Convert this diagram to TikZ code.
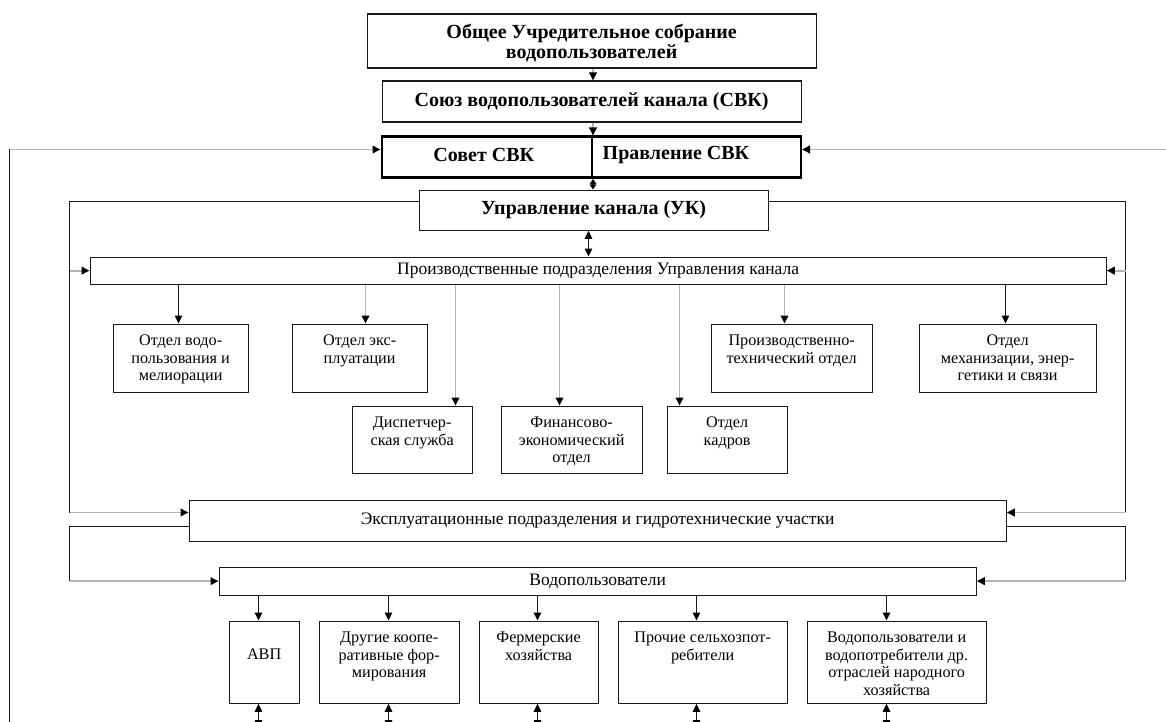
\documentclass[tikz,border=0pt]{standalone}
\usepackage{fontspec}
\setmainfont{Liberation Serif}
\usetikzlibrary{arrows.meta,calc}
\definecolor{gl}{HTML}{B4B4B4}
\definecolor{bl}{HTML}{1A1A1A}
\tikzset{
  >={Triangle[width=7.5pt,length=8pt,color=black]},
  box/.style={draw=bl, line width=1.25pt, inner sep=0pt, align=center},
  tbox/.style={draw=black, line width=2.5pt, inner sep=0pt, align=center},
  hb/.style={font=\fontsize{20}{20}\selectfont\bfseries},
  hr/.style={font=\fontsize{17.5}{18}\selectfont},
  dt/.style={font=\fontsize{16.2}{17.7}\selectfont, align=center, inner sep=0pt, anchor=north},
  blk/.style={draw=bl, line width=1.25pt},
  gry/.style={draw=gl, line width=1.9pt},
  sdbl/.style={draw=bl, line width=1.2pt, {Triangle[width=6.5pt,length=5pt,color=black]}-{Triangle[width=6.5pt,length=5pt,color=black]}}
}
\newcommand\bx[7]{\pgfmathsetmacro\bxw{#4-#2}\pgfmathsetmacro\bxh{#5-#3}%
  \node[#6,minimum width=\bxw pt,minimum height=\bxh pt,anchor=north west] (#1) at (#2,#3) {#7};}
\begin{document}
\begin{tikzpicture}[x=1pt,y=-1pt]
\useasboundingbox (0,0) rectangle (1166,722);
\clip (0,0) rectangle (1166,722);
% top boxes
\bx{T}{366.5}{13.5}{815.5}{67.5}{box}{}
\node[hb, align=center, inner sep=0pt] (Tt) at ($(T.center)+(0,1.5)$) {Общее Учредительное собрание\\водопользователей};
\bx{S}{381.5}{80.5}{800.5}{121.5}{box,hb}{Союз водопользователей канала (СВК)}
\bx{SV}{380.5}{135.5}{590.5}{176.5}{tbox}{}
\node[hb, inner sep=0pt] (SVt) at ($(SV.center)+(-3,-2)$) {Совет СВК};
\bx{PV}{590.5}{135.5}{799.5}{176.5}{tbox}{}
\node[hb, anchor=west, inner sep=0pt] (PVt) at ($(PV.west)+(12,-2)$) {Правление СВК};
\bx{UK}{418.5}{189.5}{767.5}{229.5}{box,hb}{Управление канала (УК)}
\bx{PR}{89.5}{256.5}{1105.5}{283.5}{box,hr}{Производственные подразделения Управления канала}
% departments
\bx{D1}{112.5}{323.5}{247.5}{391.5}{box}{}
\bx{D2}{291.5}{323.5}{426.5}{391.5}{box}{}
\bx{D3}{351.5}{405.5}{471.5}{472.5}{box}{}
\bx{D4}{500.5}{405.5}{641.5}{472.5}{box}{}
\bx{D5}{666.5}{405.5}{786.5}{472.5}{box}{}
\bx{D6}{710.5}{323.5}{871.5}{391.5}{box}{}
\bx{D7}{918.5}{323.5}{1095.5}{391.5}{box}{}
\node[dt] (D1t) at ($(D1.north)+(0,11)$) {Отдел водо-\\пользования и\\мелиорации};
\node[dt] (D2t) at ($(D2.north)+(0,11)$) {Отдел экс-\\плуатации};
\node[dt] (D3t) at ($(D3.north)+(0,11)$) {Диспетчер-\\ская служба};
\node[dt] (D4t) at ($(D4.north)+(0,11)$) {Финансово-\\экономический\\отдел};
\node[dt] (D5t) at ($(D5.north)+(0,11)$) {Отдел\\кадров};
\node[dt] (D6t) at ($(D6.north)+(0,11)$) {Производственно-\\технический отдел};
\node[dt] (D7t) at ($(D7.north)+(0,11)$) {Отдел\\механизации, энер-\\гетики и связи};
\bx{EX}{188.5}{499.5}{1005.5}{540.5}{box,hr}{Эксплуатационные подразделения и гидротехнические участки}
\bx{VP}{218.5}{566.5}{975.5}{594.5}{box,hr}{Водопользователи}
% bottom boxes
\bx{B1}{228.5}{620.5}{298.5}{702.5}{box}{}
\bx{B2}{318.5}{620.5}{458.5}{702.5}{box}{}
\bx{B3}{478.5}{620.5}{597.5}{702.5}{box}{}
\bx{B4}{617.5}{620.5}{786.5}{702.5}{box}{}
\bx{B5}{806.5}{620.5}{985.5}{702.5}{box}{}
\node[dt] (B1t) at ($(B1.north)+(0,28.5)$) {АВП};
\node[dt] (B2t) at ($(B2.north)+(0,11)$) {Другие коопе-\\ративные фор-\\мирования};
\node[dt] (B3t) at ($(B3.north)+(0,11)$) {Фермерские\\хозяйства};
\node[dt] (B4t) at ($(B4.north)+(0,11)$) {Прочие сельхозпот-\\ребители};
\node[dt] (B5t) at ($(B5.north)+(0,11)$) {Водопользователи и\\водопотребители др.\\отраслей народного\\хозяйства};
% coordinates
\coordinate (xL) at (69.5,0);
\coordinate (xR) at (1125.5,0);
\coordinate (lb) at (9.5,722);
\coordinate (g1) at (380.5,149.5);
\coordinate (re) at (1166,149.5);
\coordinate (ukl) at (418.5,201.5);
\coordinate (ukr) at (767.5,201.5);
\coordinate (exa) at (0,512.5);
\coordinate (exl) at (188.5,526.5);
\coordinate (exr) at (1005.5,526.5);
\coordinate (bot) at (0,728);
\coordinate (m) at (588.5,0);
\foreach \n/\x in {a1/178.5,a2/365.5,a3/455.5,a4/559.5,a5/679.5,a6/784.5,a7/1005.5,c1/258.5,c2/388.5,c3/537.5,c4/696.5,c5/886.5}
  {\coordinate (\n) at (\x,0);}
% top connectors
\draw[gry,->] (SV.north east |- T.south) -- (SV.north east |- S.north);
\draw[gry,->] (SV.north east |- S.south) -- (SV.north east);
\draw[sdbl] (SV.south east) -- (SV.south east |- UK.north);
\draw[blk,<->] (m |- UK.south) -- (m |- PR.north);
% outer feedback lines
\draw[blk] (lb) -- (lb |- g1);
\draw[gry,->] (lb |- g1) -- (g1);
\draw[gry,->] (re) -- (re -| PV.east);
% UK side lines
\draw[blk] (ukl) -- (xL |- ukl) -- (xL |- exa);
\draw[gry,->] (xL |- PR.west) -- (PR.west);
\draw[gry,->] (xL |- exa) -- (EX.west |- exa);
\draw[blk] (ukr) -- (xR |- ukr) -- (xR |- exa);
\draw[gry,->] (xR |- PR.east) -- (PR.east);
\draw[gry,->] (xR |- exa) -- (EX.east |- exa);
% EX to VP
\draw[blk] (exl) -- (xL |- exl) -- (xL |- VP.west);
\draw[gry,->] (xL |- VP.west) -- (VP.west);
\draw[blk] (exr) -- (xR |- exr) -- (xR |- VP.east);
\draw[gry,->] (xR |- VP.east) -- (VP.east);
% departments
\draw[blk,->] (a1 |- PR.south) -- (a1 |- D1.north);
\draw[gry,->] (a2 |- PR.south) -- (a2 |- D2.north);
\draw[gry,->] (a3 |- PR.south) -- (a3 |- D3.north);
\draw[gry,->] (a4 |- PR.south) -- (a4 |- D4.north);
\draw[gry,->] (a5 |- PR.south) -- (a5 |- D5.north);
\draw[gry,->] (a6 |- PR.south) -- (a6 |- D6.north);
\draw[blk,->] (a7 |- PR.south) -- (a7 |- D7.north);
% bottom
\draw[blk,->] (c1 |- VP.south) -- (c1 |- B1.north);
\draw[blk,->] (c2 |- VP.south) -- (c2 |- B2.north);
\draw[blk,->] (c3 |- VP.south) -- (c3 |- B3.north);
\draw[blk,->] (c4 |- VP.south) -- (c4 |- B4.north);
\draw[blk,->] (c5 |- VP.south) -- (c5 |- B5.north);
\draw[blk,<->] (c1 |- bot) -- (c1 |- B1.south);
\draw[blk,<->] (c2 |- bot) -- (c2 |- B2.south);
\draw[blk,<->] (c3 |- bot) -- (c3 |- B3.south);
\draw[blk,<->] (c4 |- bot) -- (c4 |- B4.south);
\draw[blk,<->] (c5 |- bot) -- (c5 |- B5.south);
\end{tikzpicture}
\end{document}
